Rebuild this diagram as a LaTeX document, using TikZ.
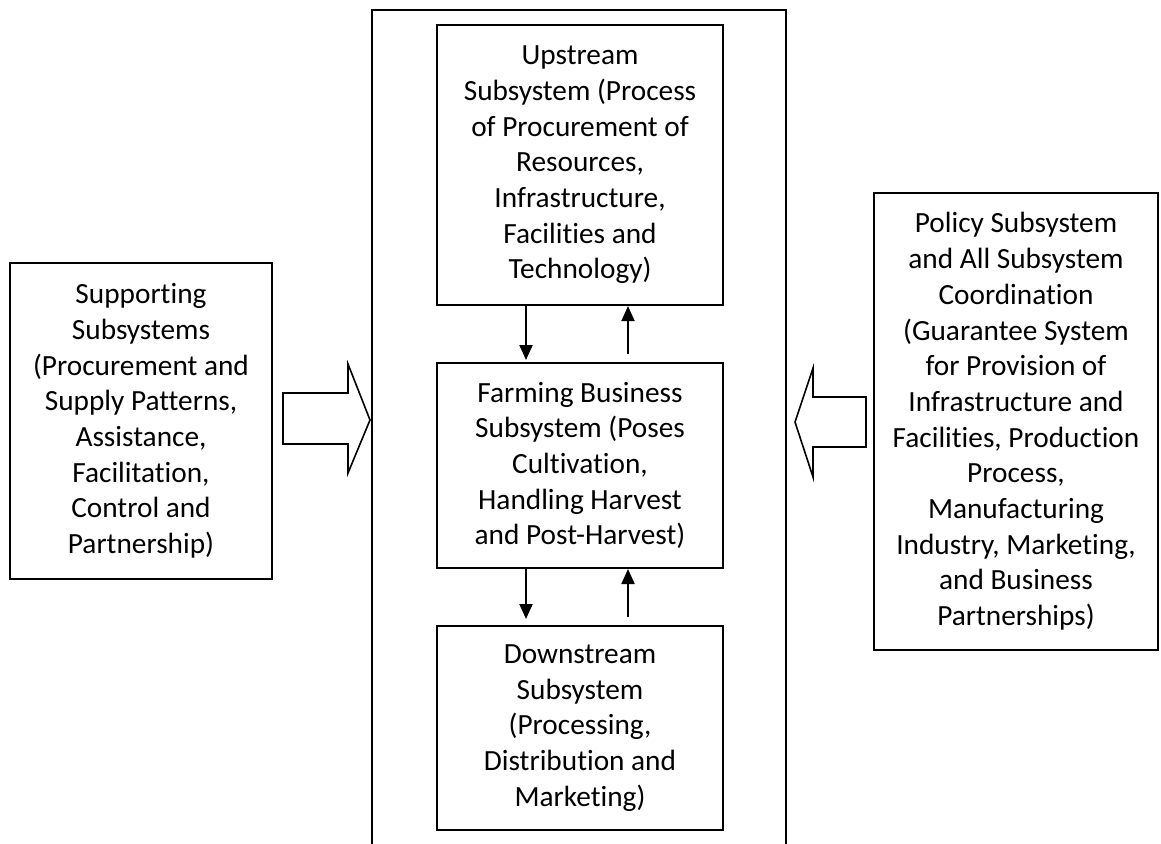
\documentclass[tikz,border=0pt]{standalone}
\usepackage{fontspec}
\setmainfont{Carlito}[Ligatures={NoCommon}]
\usetikzlibrary{arrows.meta}
\begin{document}
\begin{tikzpicture}[x=1pt,y=-1pt,
  box/.style={draw, line width=2pt, align=center, inner sep=0pt,
    font=\fontsize{29.3pt}{35.7pt}\selectfont},
  arr/.style={line width=2pt, -{Triangle[length=15pt,width=13pt]}},
  blockarrow/.style={draw, line width=1.6pt, fill=white, line join=miter}]
\useasboundingbox (0,0) rectangle (1161,843);
% outer frame (open at the bottom, runs off the page)
\draw[line width=2.2pt] (372,860) -- (372,10) -- (786,10) -- (786,860);
% central boxes
\node[box, minimum width=286pt, minimum height=280pt] (up) at (580,165)
  {Upstream\\Subsystem (Process\\of Procurement of\\Resources,\\Infrastructure,\\Facilities and\\Technology)};
\node[box, minimum width=286pt, minimum height=205pt] (farm) at (580,465.5)
  {Farming Business\\Subsystem (Poses\\Cultivation,\\Handling Harvest\\and Post-Harvest)};
\node[box, minimum width=286pt, minimum height=204pt] (down) at (580,728)
  {Downstream\\Subsystem\\(Processing,\\Distribution and\\Marketing)};
% side boxes
\node[box, minimum width=262pt, minimum height=316pt] (left) at (141,421)
  {Supporting\\Subsystems\\(Procurement and\\Supply Patterns,\\Assistance,\\Facilitation,\\Control and\\Partnership)};
\node[box, minimum width=284pt, minimum height=457pt] (right) at (1016,421.5)
  {Policy Subsystem\\and All Subsystem\\Coordination\\(Guarantee System\\for Provision of\\Infrastructure and\\Facilities, Production\\Process,\\Manufacturing\\Industry, Marketing,\\and Business\\Partnerships)};
% small arrows
\draw[arr, shorten >=2pt] ([xshift=-54pt]up.south) -- ([xshift=-54pt]farm.north);
\draw[arr, shorten <=8pt] ([xshift=48pt]farm.north) -- ([xshift=48pt]up.south);
\draw[arr, shorten >=6pt] ([xshift=-54pt]farm.south) -- ([xshift=-54pt]down.north);
\draw[arr, shorten <=8pt] ([xshift=48pt]down.north) -- ([xshift=48pt]farm.south);
% block arrows
\draw[blockarrow] (283,393) -- (348,393) -- (348,364) -- (370,420) -- (348,473) -- (348,444) -- (283,444) -- cycle;
\draw[blockarrow] (866,397) -- (813,397) -- (813,368) -- (795,422) -- (813,477) -- (813,447) -- (866,447) -- cycle;
\end{tikzpicture}
\end{document}
